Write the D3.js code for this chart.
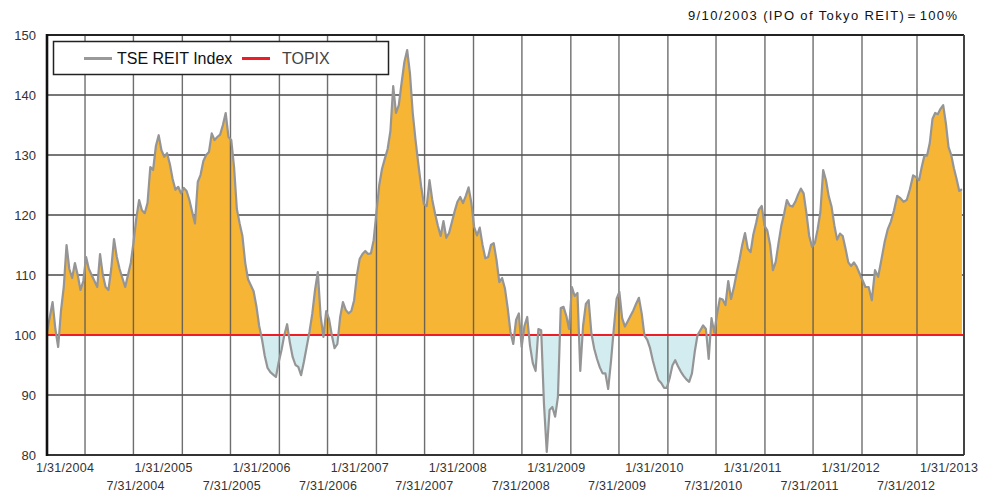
<!DOCTYPE html>
<html><head><meta charset="utf-8">
<script src="https://cdn.jsdelivr.net/npm/d3@7"></script>
<style>body{margin:0;background:#fff}svg{display:block}</style>
</head><body><svg id="c" width="1000" height="493"></svg>
<script>
// ---- data ----
const startDate = "2003-09-10";
const stepHours = 252; // one reading every 10.5 days
const reitValues = [
100.5,103,105.5,101,98,104,108,115,111,109.5,
112,110,107.5,109,113,111,110,109,108,113.5,
110,108,107.5,111,116,113,111,109.5,108,110,
112,115.5,119.5,122.5,120.8,120.3,122,128,127.5,131.5,
133.3,130.8,129.7,130.3,128.5,126,124.2,124.7,123.6,124.5,
124,122.5,120.5,118.6,125.5,126.7,129,130,130.5,133.6,
132.5,133,133.4,135,137,133,132.5,128,121,118.6,
116.5,112,109.3,108.3,107.3,104.8,101.5,99.3,96.5,94.5,
93.8,93.4,93,95.5,97.5,100,101.8,98.7,96.3,95,
94.7,93.3,95.5,98,100.5,103.5,107.5,110.5,103.2,99.7,
104,102.7,100,97.8,98.5,103,105.5,104.2,103.6,104,
105.8,110,112.7,113.5,114,113.5,113.6,115.8,120.5,125,
127.7,129.4,131,134,141.5,137,138.3,142,145.5,147.5,
143.6,137,132.5,128.5,124.8,121.8,121.5,125.8,122.5,120.2,
118.2,116.5,119,116.2,117,118.8,120.6,122.2,123,122,
123.2,124.6,122,118,116.6,117.9,115,112.8,113,115,
115.3,112.5,108.8,109.5,107.8,104.5,100.5,98.5,102.5,103.6,
98,101.5,103,98.2,95.3,94,101,100.8,88.5,80.5,
87.5,88,86.4,89.7,104.5,104.7,103.2,101,108,106.5,
107,94,101.5,105.2,105.8,100.2,97.7,96,94.6,93.6,
93.6,91,95.6,101,106,107.2,102.8,101.4,102.3,103.2,
104.1,105.2,106.2,103.6,99.9,99.2,97.8,95.7,94,92.5,
92,91.2,91.2,92.8,94.9,95.8,94.8,93.9,93.2,92.6,
92.2,93.6,97.2,100,100.8,101.6,101,96,102.8,100.4,
103.5,106.1,105.9,105,109,106,107.9,110.3,112.5,115,
117,114.4,113.8,116.8,118.7,120.9,121.5,118.2,117.4,115,
110.8,112.2,115.3,118.2,120.2,122.5,121.6,121.4,122.2,123.4,
124.4,123.6,120.3,116.5,114.7,115.3,117.6,120.5,127.5,125.8,
123.1,121.4,118.3,115.9,116.9,116.5,114.4,112.1,111.5,112.1,
111.4,110.3,109.2,108,108,105.8,110.8,109.7,112.5,115.4,
117.6,118.9,120.8,123.2,122.8,122.2,122.5,124.3,126.6,126.3,
125.8,128,129.9,129.9,132,136,137,136.8,137.7,138.3,
135.3,131.3,130,127.8,126,124,124.3
];
const topixValue = 100;
const yTicks = [80, 90, 100, 110, 120, 130, 140, 150];
const gridDates = ["2004-01-31","2004-07-31","2005-01-31","2005-07-31","2006-01-31","2006-07-31",
  "2007-01-31","2007-07-31","2008-01-31","2008-07-31","2009-01-31","2009-07-31",
  "2010-01-31","2010-07-31","2011-01-31","2011-07-31","2012-01-31","2012-07-31"];
const upperLabels = ["1/31/2004","1/31/2005","1/31/2006","1/31/2007","1/31/2008","1/31/2009","1/31/2010","1/31/2011","1/31/2012","1/31/2013"];
const lowerLabels = ["7/31/2004","7/31/2005","7/31/2006","7/31/2007","7/31/2008","7/31/2009","7/31/2010","7/31/2011","7/31/2012"];
const seriesNames = ["TSE REIT Index", "TOPIX"];
const noteText = "9/10/2003 (IPO of Tokyo REIT)\uFF1D100%";

// ---- setup ----
const pISO = d3.utcParse("%Y-%m-%d");
const pMDY = d3.utcParse("%m/%d/%Y");
const t0 = pISO(startDate);
const data = reitValues.map((v, i) => ({ d: d3.utcHour.offset(t0, i * stepHours), v }));

const L = 47, R = 964, T = 35, B = 455;
const x = d3.scaleUtc()
  .domain([t0, pISO("2012-01-31"), pISO("2012-07-31"), pISO("2013-01-31")])
  .range([L, 862, 917, R]);
const y = d3.scaleLinear().domain([80, 150]).range([B, T]);
const xUpper = d3.scaleUtc().domain([pMDY(upperLabels[0]), pMDY(upperLabels[upperLabels.length-1])]).range([65, 949]);
const xLower = d3.scaleUtc().domain([pMDY(lowerLabels[0]), pMDY(lowerLabels[lowerLabels.length-1])]).range([135.5, 906]);

const svg = d3.select("#c");
const font = "'Liberation Sans', Arial, sans-serif";

const defs = svg.append("defs");
defs.append("clipPath").attr("id", "above").append("rect")
  .attr("x", L).attr("y", T).attr("width", R - L).attr("height", y(topixValue) - T);
defs.append("clipPath").attr("id", "below").append("rect")
  .attr("x", L).attr("y", y(topixValue)).attr("width", R - L).attr("height", B - y(topixValue));

// horizontal gridlines
svg.append("g").selectAll("line").data(yTicks.filter(t => t > 80 && t < 150)).join("line")
  .attr("x1", L).attr("x2", R).attr("y1", d => y(d)).attr("y2", d => y(d))
  .attr("stroke", "#4a4a4a").attr("stroke-width", 1.5);

// fills
const area = d3.area().x(d => x(d.d)).y0(y(topixValue)).y1(d => y(d.v));
svg.append("path").datum(data).attr("d", area).attr("fill", "#f6b535").attr("clip-path", "url(#above)");
svg.append("path").datum(data).attr("d", area).attr("fill", "#d2ecf0").attr("clip-path", "url(#below)");

// vertical gridlines (drawn over fills)
svg.append("g").selectAll("line").data(gridDates.map(pISO)).join("line")
  .attr("x1", d => x(d)).attr("x2", d => x(d)).attr("y1", T).attr("y2", B)
  .attr("stroke", "#555").attr("stroke-opacity", 0.85).attr("stroke-width", 1.4);

// TOPIX line
svg.append("line").attr("x1", L).attr("x2", R).attr("y1", y(topixValue)).attr("y2", y(topixValue))
  .attr("stroke", "#ee1c25").attr("stroke-width", 2);

// REIT line
svg.append("path").datum(data)
  .attr("d", d3.line().x(d => x(d.d)).y(d => y(d.v)))
  .attr("fill", "none").attr("stroke", "#959595").attr("stroke-width", 2.2).attr("stroke-linejoin", "round");

// frame
svg.append("line").attr("x1", L).attr("x2", R).attr("y1", T).attr("y2", T).attr("stroke", "#222").attr("stroke-width", 2);
svg.append("line").attr("x1", R).attr("x2", R).attr("y1", T).attr("y2", B).attr("stroke", "#444").attr("stroke-width", 2);
svg.append("line").attr("x1", L - 1).attr("x2", R).attr("y1", B).attr("y2", B).attr("stroke", "#333").attr("stroke-width", 2);
svg.append("line").attr("x1", L).attr("x2", L).attr("y1", T - 1).attr("y2", B + 1).attr("stroke", "#111").attr("stroke-width", 2.6);

// y labels
svg.append("g").selectAll("text").data(yTicks).join("text")
  .attr("x", 36).attr("y", d => y(d)).attr("dy", "0.35em").attr("text-anchor", "end")
  .attr("font-family", font).attr("font-size", 13).attr("fill", "#333").text(d => d);

// x labels
svg.append("g").selectAll("text").data(upperLabels).join("text")
  .attr("x", d => xUpper(pMDY(d))).attr("y", 472).attr("text-anchor", "middle")
  .attr("font-family", font).attr("font-size", 12.5).attr("fill", "#333")
  .attr("textLength", 58).attr("lengthAdjust", "spacing").text(d => d);
svg.append("g").selectAll("text").data(lowerLabels).join("text")
  .attr("x", d => xLower(pMDY(d))).attr("y", 490).attr("text-anchor", "middle")
  .attr("font-family", font).attr("font-size", 12.5).attr("fill", "#333")
  .attr("textLength", 58).attr("lengthAdjust", "spacing").text(d => d);

// note
svg.append("text").attr("x", 957).attr("y", 20).attr("text-anchor", "end")
  .attr("font-family", font).attr("font-size", 13).attr("fill", "#111")
  .attr("textLength", 269).attr("lengthAdjust", "spacing").text(noteText);

// legend
const lg = svg.append("g");
lg.append("rect").attr("x", 53.5).attr("y", 41.5).attr("width", 335).attr("height", 33)
  .attr("fill", "#fff").attr("stroke", "#222").attr("stroke-width", 1.5);
lg.append("line").attr("x1", 84).attr("x2", 112).attr("y1", 58.5).attr("y2", 58.5).attr("stroke", "#999").attr("stroke-width", 3);
lg.append("text").attr("x", 117).attr("y", 64).attr("font-family", font).attr("font-size", 16).attr("fill", "#111").text(seriesNames[0]);
lg.append("line").attr("x1", 242).attr("x2", 270).attr("y1", 58.5).attr("y2", 58.5).attr("stroke", "#ee1c25").attr("stroke-width", 3);
lg.append("text").attr("x", 282).attr("y", 64).attr("font-family", font).attr("font-size", 16).attr("fill", "#444").text(seriesNames[1]);
</script></body></html>
